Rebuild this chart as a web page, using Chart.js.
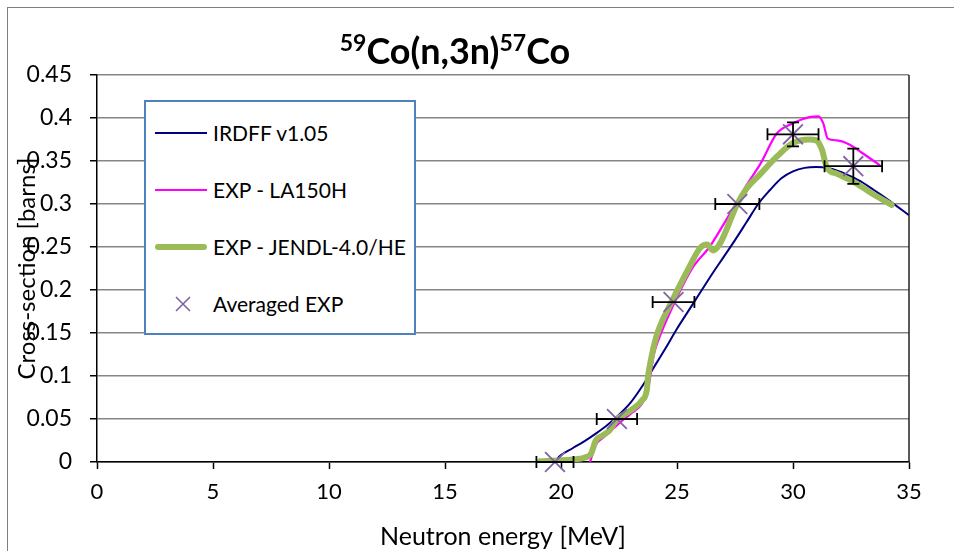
<!DOCTYPE html>
<html lang="en">
<head>
  <meta charset="UTF-8" />
  <title>59Co(n,3n)57Co</title>
  <script src="https://cdn.jsdelivr.net/npm/chart.js"></script>
  <style>
    body { margin: 0; background: #ffffff; font-family: 'Lato', sans-serif; }
    #wrap { position: relative; width: 954px; height: 551px; overflow: hidden; }
    #frame {
      position: absolute; left: 7px; top: 7px; width: 970px; height: 570px;
      border: 1.5px solid #7f7f7f;
    }
    canvas { position: absolute; left: 0; top: 0; }
    #title {
      position: absolute; left: 255px; width: 400px; top: 29px;
      text-align: center; font-weight: bold; font-size: 36px; line-height: 42px; color: #000;
    }
    #title sup { font-size: 23px; vertical-align: 13px; line-height: 0; }
    #legend {
      position: absolute; left: 144px; top: 100px; width: 268px; height: 231px;
      border: 2px solid #4f81bd; background: #fff;
    }
    .row { position: absolute; left: 0; height: 30px; width: 100%; }
    .row span.txt { position: absolute; left: 67px; top: 2px; font-size: 21px; white-space: nowrap; }
    .swatch { position: absolute; left: 9px; width: 52px; }
  </style>
</head>
<body>
<div id="wrap">
  <div id="frame"></div>
  <canvas id="chart" width="954" height="551"></canvas>
  <div id="title"><sup>59</sup>Co(n,3n)<sup>57</sup>Co</div>
  <div id="legend">
    <div class="row" style="top:16px"><div class="swatch" style="top:14px;height:2px;background:#000080"></div><span class="txt">IRDFF v1.05</span></div>
    <div class="row" style="top:73px"><div class="swatch" style="top:14px;height:2px;background:#ff00ff"></div><span class="txt">EXP - LA150H</span></div>
    <div class="row" style="top:130px"><div class="swatch" style="top:12px;height:6px;border-radius:3px;background:#9bbb59"></div><span class="txt">EXP - JENDL-4.0/HE</span></div>
    <div class="row" style="top:187px">
      <svg style="position:absolute;left:29px;top:7px" width="16" height="16"><path d="M1 1 L15 15 M15 1 L1 15" stroke="#8064a2" stroke-width="1.6"/></svg>
      <span class="txt">Averaged EXP</span></div>
  </div>
</div>

<script>
  // IRDFF v1.05 evaluation
  const irdffE = [19.7, 20, 20.5, 21, 21.5, 22, 22.5, 23, 23.5, 24, 24.5, 25, 25.5, 26, 26.5, 27, 27.5, 28, 28.5, 29, 29.5, 30, 30.5, 31, 31.5, 32, 32.5, 33, 33.5, 34, 34.5, 35];
  const irdffXS = [0, 0.008, 0.016, 0.024, 0.033, 0.043, 0.055, 0.069, 0.088, 0.11, 0.132, 0.155, 0.176, 0.197, 0.218, 0.238, 0.258, 0.279, 0.300, 0.316, 0.330, 0.338, 0.342, 0.343, 0.342, 0.338, 0.332, 0.325, 0.316, 0.307, 0.297, 0.287];

  // EXP - LA150H
  const la150E = [21.25, 21.5, 21.8, 22.1, 22.5, 23.0, 23.5, 23.75, 23.85, 24.0, 24.2, 24.8, 25.7, 26.4, 27.0, 27.6, 28.0, 28.6, 29.3, 30.0, 30.7, 31.1, 31.3, 31.5, 31.9, 32.45, 33.0, 33.75];
  const la150XS = [0.0, 0.02, 0.028, 0.035, 0.045, 0.056, 0.068, 0.085, 0.1, 0.125, 0.142, 0.18, 0.227, 0.25, 0.276, 0.303, 0.322, 0.347, 0.382, 0.394, 0.401, 0.402, 0.394, 0.376, 0.374, 0.369, 0.359, 0.345];

  // EXP - JENDL-4.0/HE
  const jendlE = [19.1, 20.0, 20.5, 21.0, 21.3, 21.5, 21.8, 22.1, 22.4, 23.0, 23.5, 23.7, 23.75, 23.9, 24.1, 24.3, 24.8, 25.5, 26.0, 26.3, 26.55, 26.85, 27.6, 28.0, 28.6, 29.3, 30.0, 30.7, 31.0, 31.25, 31.45, 31.9, 32.6, 33.3, 34.25];
  const jendlXS = [0.001, 0.002, 0.003, 0.005, 0.010, 0.025, 0.031, 0.037, 0.049, 0.06, 0.072, 0.084, 0.099, 0.122, 0.145, 0.16, 0.188, 0.225, 0.249, 0.253, 0.246, 0.254, 0.300, 0.318, 0.335, 0.355, 0.371, 0.375, 0.374, 0.363, 0.343, 0.335, 0.326, 0.314, 0.299];

  // Averaged EXP points with uncertainties
  const expE = [19.74, 22.41, 24.85, 27.6, 30.0, 32.6];
  const expXS = [0.0, 0.05, 0.186, 0.300, 0.381, 0.344];
  const expEErr = [0.8, 0.87, 0.9, 0.95, 1.1, 1.24];
  const expXSErr = [0, 0, 0, 0, 0.014, 0.0205];

  const xTickLabels = ['0', '5', '10', '15', '20', '25', '30', '35'];
  const yTickLabels = ['0', '0.05', '0.1', '0.15', '0.2', '0.25', '0.3', '0.35', '0.4', '0.45'];

  const pts = (xs, ys) => xs.map((x, i) => ({ x: x, y: ys[i] }));

  const errorBars = {
    id: 'errorBars',
    afterDatasetsDraw(chart) {
      const { ctx, scales: { x, y } } = chart;
      const cap = 6;
      ctx.save();
      ctx.strokeStyle = '#000';
      ctx.lineWidth = 1.8;
      expE.forEach((e, i) => {
        const py = y.getPixelForValue(expXS[i]);
        const x0 = x.getPixelForValue(e - expEErr[i]);
        const x1 = x.getPixelForValue(e + expEErr[i]);
        ctx.beginPath();
        ctx.moveTo(x0, py); ctx.lineTo(x1, py);
        ctx.moveTo(x0, py - cap); ctx.lineTo(x0, py + cap);
        ctx.moveTo(x1, py - cap); ctx.lineTo(x1, py + cap);
        if (expXSErr[i] > 0) {
          const px = x.getPixelForValue(e);
          const y0 = y.getPixelForValue(expXS[i] - expXSErr[i]);
          const y1 = y.getPixelForValue(expXS[i] + expXSErr[i]);
          ctx.moveTo(px, y0); ctx.lineTo(px, y1);
          ctx.moveTo(px - cap, y0); ctx.lineTo(px + cap, y0);
          ctx.moveTo(px - cap, y1); ctx.lineTo(px + cap, y1);
        }
        ctx.stroke();
      });
      // right edge of the plot area
      const a = chart.chartArea;
      ctx.strokeStyle = '#222';
      ctx.lineWidth = 1.5;
      ctx.beginPath();
      ctx.moveTo(a.right, a.top); ctx.lineTo(a.right, a.bottom);
      ctx.stroke();
      ctx.restore();
    }
  };

  Chart.defaults.font.family = 'Lato';
  Chart.defaults.color = '#000';

  new Chart(document.getElementById('chart'), {
    type: 'line',
    data: {
      datasets: [
        {
          label: 'Averaged EXP', data: pts(expE, expXS), showLine: false, order: 0,
          pointStyle: 'crossRot', pointRadius: 14, pointBorderWidth: 1.8,
          pointBorderColor: '#8064a2', pointBackgroundColor: '#8064a2', clip: false
        },
        {
          label: 'EXP - JENDL-4.0/HE', data: pts(jendlE, jendlXS), order: 1,
          borderColor: '#9bbb59', borderWidth: 6, pointRadius: 0,
          cubicInterpolationMode: 'monotone', borderCapStyle: 'round', borderJoinStyle: 'round'
        },
        {
          label: 'EXP - LA150H', data: pts(la150E, la150XS), order: 2,
          borderColor: '#ff00ff', borderWidth: 2.2, pointRadius: 0,
          cubicInterpolationMode: 'monotone'
        },
        {
          label: 'IRDFF v1.05', data: pts(irdffE, irdffXS), order: 3,
          borderColor: '#000080', borderWidth: 2, pointRadius: 0,
          cubicInterpolationMode: 'monotone'
        }
      ]
    },
    options: {
      responsive: false,
      animation: false,
      devicePixelRatio: 1,
      layout: { padding: { top: 75, right: 45, bottom: 0, left: 0 } },
      plugins: { legend: { display: false }, tooltip: { enabled: false } },
      scales: {
        x: {
          type: 'linear', min: 0, max: 35,
          afterFit: (s) => { s.height = 89; },
          ticks: {
            stepSize: 5, padding: 10, font: { size: 22 },
            callback: (v, i) => xTickLabels[i]
          },
          grid: { drawOnChartArea: false, tickLength: 7, tickColor: '#000', tickWidth: 1.5 },
          border: { color: '#000', width: 1.5 },
          title: { display: true, text: 'Neutron energy [MeV]', font: { size: 25 }, padding: { top: 0, bottom: -1 } }
        },
        y: {
          min: 0, max: 0.45,
          afterFit: (s) => { s.width = 97; },
          ticks: {
            stepSize: 0.05, padding: 18, font: { size: 23 },
            callback: (v, i) => yTickLabels[i]
          },
          grid: { color: '#868686', lineWidth: 1.5, tickLength: 7, tickColor: '#000', tickWidth: 1.5 },
          border: { color: '#000', width: 1.5 },
          title: { display: true, text: 'Cross-section [barns]', font: { size: 24 }, padding: { top: 13, bottom: 0 } }
        }
      }
    },
    plugins: [errorBars]
  });
</script>
</body>
</html>
